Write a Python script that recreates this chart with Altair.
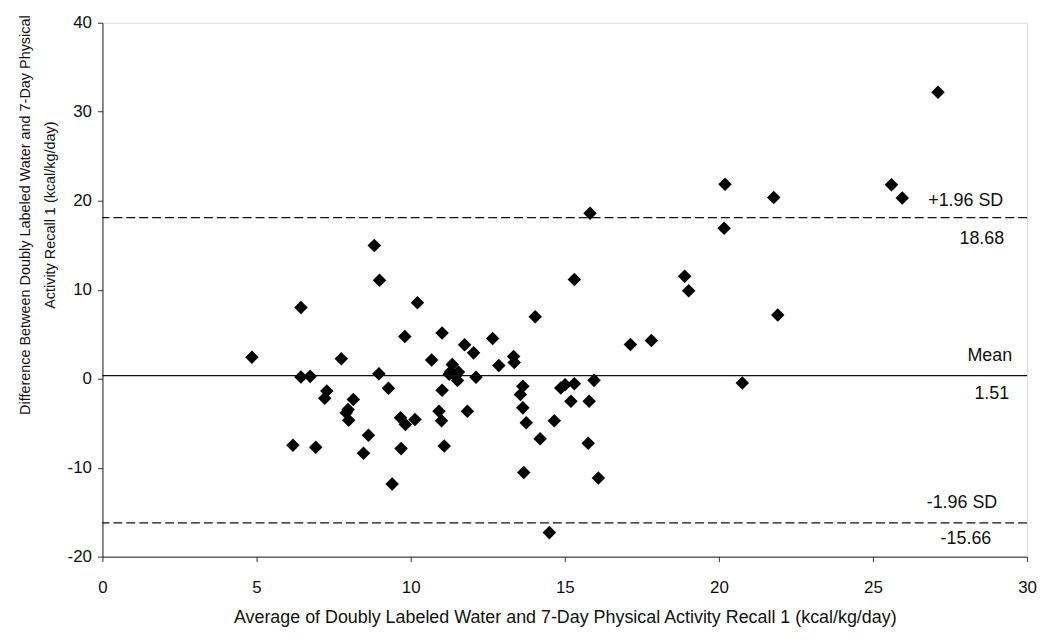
import altair as alt
import pandas as pd

avg_x = [4.85, 6.44, 6.44, 6.74, 6.18, 6.92, 7.28, 7.21, 7.75, 8.14, 7.97, 7.91, 7.99,
         8.47, 8.63, 8.82, 8.99, 8.97, 9.28, 9.40, 9.69, 9.67, 9.83, 10.14, 9.81, 10.22,
         10.68, 11.02, 11.02, 10.92, 11.00, 11.09, 11.75, 12.04, 11.84, 11.35, 11.30,
         11.55, 11.52, 11.25, 11.45, 12.12, 15.82, 15.31, 14.04, 12.66, 12.86, 13.34,
         13.36, 13.64, 13.56, 13.64, 13.75, 13.67, 14.20, 14.66, 14.87, 15.01, 15.31,
         15.20, 15.79, 15.95, 15.76, 16.09, 17.13, 17.81, 14.50, 27.11, 20.20, 21.78,
         25.60, 25.95, 20.17, 18.89, 19.02, 21.91, 20.76]
diff_y = [2.42, 8.0, 0.19, 0.26, -7.49, -7.7, -1.38, -2.2, 2.23, -2.35, -3.46, -3.84, -4.66,
          -8.38, -6.37, 14.97, 11.06, 0.56, -1.08, -11.84, -7.86, -4.39, -5.14, -4.58, 4.73, 8.53,
          2.09, 5.14, -1.3, -3.65, -4.73, -7.56, 3.8, 2.9, -3.65, 1.6, 0.8,
          0.75, -0.2, 0.5, 0.3, 0.17, 18.58, 11.14, 6.96, 4.51, 1.49, 2.49,
          1.82, -0.86, -1.79, -3.28, -4.95, -10.54, -6.74, -4.73, -1.04, -0.67, -0.56,
          -2.53, -2.53, -0.19, -7.26, -11.17, 3.84, 4.28, -17.3, 32.2, 21.86, 20.37,
          21.79, 20.3, 16.91, 11.5, 9.87, 7.15, -0.48]

line_values = [18.1, 0.35, -16.2]
line_dash = [[9, 4], [1, 0], [9, 4]]
label_above = ["+1.96 SD", "Mean", "-1.96 SD"]
label_below = ["18.68", "1.51", "-15.66"]
dy_above = [-17, -20, -20]
dy_below = [22, 19, 16]
x_above = [906, 915, 900]
x_below = [907, 912, 894]

FONT = "Liberation Sans"
TXT = "#111"

pts = pd.DataFrame({"x": avg_x, "y": diff_y})

xscale = alt.Scale(domain=[0, 30], nice=False, zero=False)
yscale = alt.Scale(domain=[-20, 40], nice=False, zero=False)

points = alt.Chart(pts).mark_point(
    shape="diamond", filled=True, color="black", size=185, opacity=1
).encode(
    x=alt.X("x:Q", scale=xscale,
            axis=alt.Axis(values=[0, 5, 10, 15, 20, 25, 30], grid=False,
                          title="Average of Doubly Labeled Water and 7-Day Physical Activity Recall 1 (kcal/kg/day)",
                          titleFont=FONT, titleFontSize=18, titleFontWeight="normal",
                          titleColor=TXT, titlePadding=13,
                          labelFont=FONT, labelFontSize=17, labelColor=TXT,
                          labelPadding=18, tickSize=5, tickColor="#333",
                          domainColor="#222", labelFlush=False,
                          labelExpr="toString(datum.value)")),
    y=alt.Y("y:Q", scale=yscale,
            axis=alt.Axis(values=[-20, -10, 0, 10, 20, 30, 40], grid=False,
                          title=["Difference Between Doubly Labeled Water and 7-Day Physical",
                                 "Activity Recall 1 (kcal/kg/day)"],
                          titleFont=FONT, titleFontSize=14.5, titleFontWeight="normal",
                          titleColor=TXT, titleLineHeight=25, titleY=193,
                          labelFont=FONT, labelFontSize=17, labelColor=TXT,
                          labelPadding=6, tickSize=5, tickColor="#333",
                          domainColor="#222", labelFlush=False, titlePadding=10,
                          labelExpr="toString(datum.value)")),
)

layers = [points]
for i in range(3):
    ld = pd.DataFrame({"v": [line_values[i]]})
    rule = alt.Chart(ld).mark_rule(color="#111", strokeWidth=1.3,
                                   strokeDash=line_dash[i]).encode(
        y=alt.Y("v:Q", scale=yscale)
    )
    above = alt.Chart(ld).mark_text(align="right", baseline="middle", dy=dy_above[i],
                                     font=FONT, fontSize=18, color=TXT).encode(
        y=alt.Y("v:Q", scale=yscale), x=alt.value(x_above[i]),
        text=alt.value(label_above[i])
    )
    below = alt.Chart(ld).mark_text(align="right", baseline="middle", dy=dy_below[i],
                                     font=FONT, fontSize=18, color=TXT).encode(
        y=alt.Y("v:Q", scale=yscale), x=alt.value(x_below[i]),
        text=alt.value(label_below[i])
    )
    layers += [rule, above, below]

chart = alt.layer(*layers).properties(
    width=930, height=537,
    autosize="none",
    padding={"left": 95, "top": 13, "right": 15, "bottom": 80},
).configure_view(stroke="#222", strokeWidth=1).configure(background="white")

chart.save("out.html", embed_options={"renderer": "svg", "actions": False})
